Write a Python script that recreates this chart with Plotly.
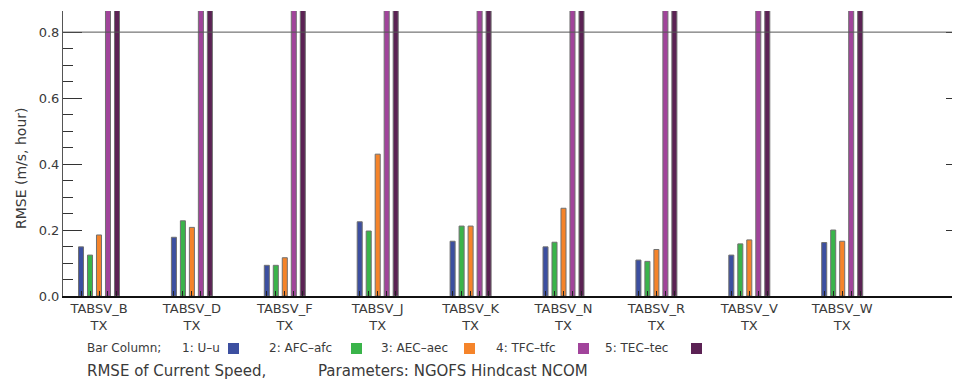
import plotly.graph_objects as go

stations = ["TABSV_B", "TABSV_D", "TABSV_F", "TABSV_J", "TABSV_K",
            "TABSV_N", "TABSV_R", "TABSV_V", "TABSV_W"]
state = ["TX"] * 9
series_names = ["1: U-u", "2: AFC-afc", "3: AEC-aec", "4: TFC-tfc", "5: TEC-tec"]
u_u = [0.149, 0.178, 0.093, 0.225, 0.166, 0.149, 0.109, 0.124, 0.162]
afc_afc = [0.124, 0.228, 0.093, 0.197, 0.212, 0.163, 0.105, 0.158, 0.200]
aec_aec = [0.185, 0.208, 0.116, 0.430, 0.212, 0.266, 0.141, 0.170, 0.166]
# TFC and TEC bars run off the top of the plot (values above the axis range)
tfc_tfc = [1.0] * 9
tec_tec = [1.0] * 9
series_values = [u_u, afc_afc, aec_aec, tfc_tfc, tec_tec]
colors = ["#3c4fa0", "#3ab44a", "#f5842a", "#a1449b", "#5b2254"]

# page body has an 8px margin; figure is sized so the plot lands where wanted
OFF = 8
W, H = 960 - OFF, 381 - OFF
PL, PR, PT, PB = 63, 960, 11, 296          # plot area in window pixels
ml, mr, mt, mb = PL - OFF, 0, PT - OFF, (H + OFF) - PB
ymax = 0.864
FONT = "DejaVu Sans"
TXT = "#3a3a3a"

x = list(range(len(stations)))
fig = go.Figure()
for name, vals, c in zip(series_names, series_values, colors):
    fig.add_trace(go.Bar(x=x, y=vals, name=name, marker_color=c,
                         marker_line_color="#707070", marker_line_width=1,
                         showlegend=False))
# dummy trace so the right-hand y axis is drawn
fig.add_trace(go.Scatter(x=[None], y=[None], yaxis="y2", showlegend=False))

group_frac = 0.484
slot = group_frac / 5
bar_ticks = [i + (k - 2) * slot for i in x for k in range(5) if k != 2]

minor_y = [0.05, 0.1, 0.15, 0.25, 0.3, 0.35, 0.45, 0.5, 0.55, 0.65, 0.7, 0.75]
major_y = [0, 0.2, 0.4, 0.6, 0.8]

fig.update_layout(
    width=W, height=H,
    margin=dict(l=ml, r=mr, t=mt, b=mb, pad=0, autoexpand=False),
    plot_bgcolor="white", paper_bgcolor="white",
    barmode="group", bargap=1 - group_frac, bargroupgap=0.44,
    font=dict(family=FONT, color=TXT, size=12),
    xaxis=dict(
        range=[-0.3875, 9.268],
        tickmode="array", tickvals=x,
        ticktext=[f"{s}<br>{t}" for s, t in zip(stations, state)],
        ticks="inside", ticklen=5, tickwidth=1, tickcolor="#222",
        minor=dict(tickmode="array", tickvals=bar_ticks, ticks="inside",
                   ticklen=5, tickcolor="#222", tickwidth=1),
        showline=True, linecolor="#111", linewidth=1.5,
        showgrid=False, zeroline=False,
        tickfont=dict(size=13, color=TXT),
    ),
    yaxis=dict(
        range=[0, ymax],
        tickmode="array", tickvals=major_y,
        ticktext=["0.0", "0.2", "0.4", "0.6", "0.8"],
        ticks="inside", ticklen=19, tickwidth=1, tickcolor="#333",
        minor=dict(tickmode="array", tickvals=minor_y,
                   ticks="inside", ticklen=10, tickcolor="#333", tickwidth=1),
        showline=True, linecolor="#555", linewidth=1,
        showgrid=False, zeroline=False,
        tickfont=dict(size=13, color=TXT),
    ),
    yaxis2=dict(
        overlaying="y", side="right", range=[0, ymax],
        tickmode="array", tickvals=major_y,
        showticklabels=False,
        ticks="inside", ticklen=14, tickwidth=1, tickcolor="#333",
        minor=dict(tickmode="array", tickvals=minor_y,
                   ticks="inside", ticklen=5, tickcolor="#333", tickwidth=1),
        showline=False, showgrid=False, zeroline=False,
    ),
)

fig.add_shape(type="line", xref="paper", yref="y", x0=0, x1=1, y0=0.8, y1=0.8,
              line=dict(color="#555", width=1))


def px(xp):
    return (xp - PL) / (PR - PL)


def py(yp):
    return (PB - yp) / (PB - PT)


ann = []
ann.append(dict(text="RMSE (m/s, hour)", x=px(21), y=py(168), xref="paper",
                yref="paper", textangle=-90, showarrow=False,
                font=dict(size=14, color=TXT), xanchor="center", yanchor="middle"))
leg_y = 348
ann.append(dict(text="Bar Column;", x=px(85), y=py(leg_y), xref="paper",
                yref="paper", showarrow=False, xanchor="left", yanchor="middle",
                font=dict(size=12, color=TXT)))
text_x = [180, 267, 379, 494, 603]
sq_x = [228, 351, 464, 578, 691]
for name, c, tx, sx in zip(series_names, colors, text_x, sq_x):
    ann.append(dict(text=name.replace("-", "\u2013"), x=px(tx), y=py(leg_y),
                    xref="paper", yref="paper", showarrow=False,
                    xanchor="left", yanchor="middle",
                    font=dict(size=12, color=TXT)))
    fig.add_shape(type="rect", xref="paper", yref="paper",
                  x0=px(sx), x1=px(sx + 11), y0=py(354), y1=py(343),
                  fillcolor=c, line=dict(width=0))
ann.append(dict(text="RMSE of Current Speed,", x=px(85), y=py(371),
                xref="paper", yref="paper", showarrow=False, xanchor="left",
                yanchor="middle", font=dict(size=15, color=TXT)))
ann.append(dict(text="Parameters: NGOFS Hindcast NCOM", x=px(316), y=py(371),
                xref="paper", yref="paper", showarrow=False, xanchor="left",
                yanchor="middle", font=dict(size=15, color=TXT)))
fig.update_layout(annotations=ann)

fig.write_html("out.html")
